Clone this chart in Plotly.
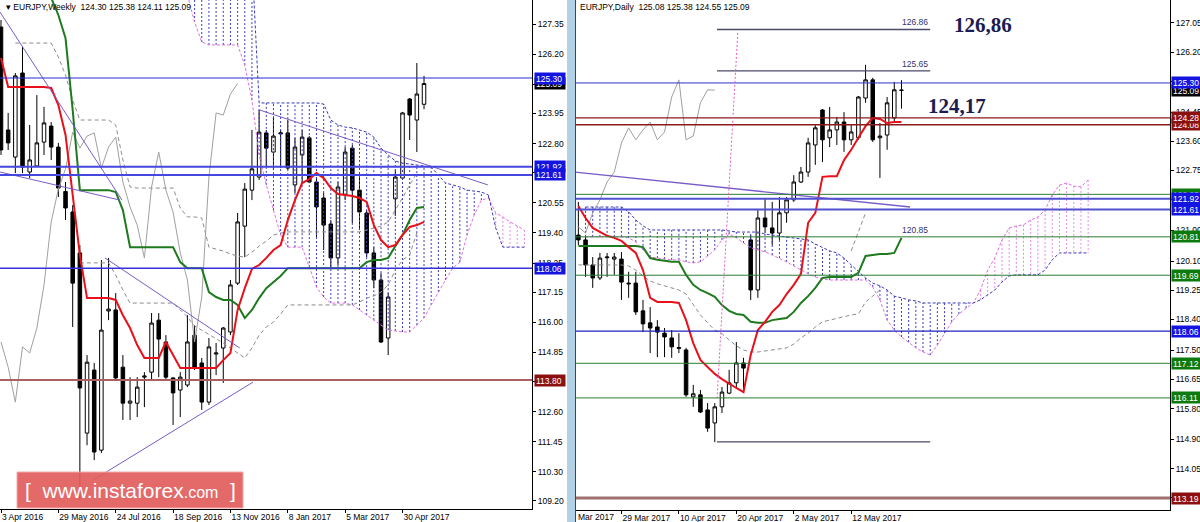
import plotly.graph_objects as go

W, H = 1200, 522
FONT = "Liberation Sans, Arial, sans-serif"

# ---------------- WEEKLY (left panel) ----------------
w_open = [127.24, 123.32, 122.29, 125.49, 121.72, 121.95, 122.86, 123.47, 122.67, 120.98,
          120.20, 118.64, 111.78, 114.18, 111.13, 116.43, 116.47, 114.29, 112.92, 112.92,
          113.91, 114.10, 116.08, 115.25, 113.88, 113.42, 113.61, 115.51, 114.45, 112.96,
          114.79, 115.02, 115.63, 117.49, 119.66, 121.03, 121.53, 123.21, 122.48, 123.17,
          123.21, 121.23, 122.37, 123.02, 121.34, 120.73, 119.74, 118.45, 120.84, 122.63,
          121.03, 120.16, 118.64, 117.61, 115.40, 120.70, 121.49, 124.50, 123.70, 124.30]
w_high = [127.51, 123.97, 125.49, 126.48, 123.51, 124.65, 124.20, 123.62, 122.83, 121.34,
          120.46, 118.94, 114.75, 114.45, 118.37, 118.45, 117.11, 114.75, 113.91, 113.91,
          114.10, 116.35, 116.35, 115.51, 113.91, 114.10, 116.27, 115.89, 114.64, 115.40,
          115.21, 115.82, 117.61, 120.16, 121.30, 123.32, 124.08, 123.32, 123.81, 123.32,
          123.70, 123.02, 123.32, 123.09, 121.53, 120.92, 119.89, 121.34, 122.67, 122.75,
          121.68, 120.27, 118.86, 117.87, 117.11, 121.80, 124.01, 124.54, 125.87, 125.38]
w_low = [122.37, 122.56, 121.68, 121.68, 121.49, 121.91, 122.37, 122.18, 120.77, 119.89,
         115.82, 109.23, 111.32, 110.75, 111.02, 116.08, 113.80, 112.28, 112.28, 112.39,
         112.77, 113.80, 113.91, 113.80, 112.09, 112.39, 113.53, 114.18, 112.66, 112.85,
         113.99, 113.69, 115.51, 117.42, 118.48, 120.65, 121.42, 121.91, 121.80, 121.87,
         121.80, 120.92, 121.30, 121.30, 119.25, 118.75, 118.10, 118.18, 120.65, 119.78,
         119.51, 118.48, 117.30, 115.21, 114.75, 120.05, 121.42, 122.94, 122.48, 124.11]
w_close = [122.56, 122.83, 125.38, 121.91, 122.18, 122.83, 123.59, 122.67, 121.11, 120.35,
           117.49, 113.50, 114.48, 111.06, 115.70, 116.50, 113.88, 112.92, 113.00, 113.53,
           113.95, 115.97, 115.36, 113.91, 113.31, 113.91, 115.25, 114.29, 112.96, 115.06,
           114.83, 115.78, 117.42, 119.82, 121.07, 121.84, 123.24, 122.63, 123.09, 123.21,
           121.87, 122.67, 123.05, 121.34, 120.39, 119.70, 118.45, 121.15, 122.48, 121.03,
           120.20, 118.64, 117.61, 115.25, 116.96, 121.53, 123.97, 123.89, 124.69, 125.09]
w_idx = list(range(len(w_close)))

w_tenkan = [126.06, 124.96, 124.96, 124.96, 124.96, 124.96, 124.96, 124.92, 124.27, 123.13,
            120.84, 118.56, 116.92, 116.92, 116.92, 116.92, 116.85, 116.27, 115.78, 115.13,
            114.64, 114.64, 114.64, 115.25, 114.75, 114.26, 114.26, 114.26, 114.26, 114.26,
            114.26, 114.56, 114.83, 116.47, 117.30, 118.03, 118.18, 118.45, 118.75, 118.94,
            119.89, 120.65, 121.30, 121.45, 121.68, 121.49, 121.11, 120.88, 120.84, 120.81,
            120.73, 120.58, 119.70, 119.13, 118.86, 118.94, 119.32, 119.63, 119.70, 119.82]
w_kijun = [129.90, 129.90, 129.90, 129.90, 129.90, 129.90, 129.22, 128.35, 127.70, 126.82,
           124.08, 121.03, 121.03, 121.03, 121.03, 121.03, 120.96, 120.27, 118.86, 118.86,
           118.86, 118.86, 118.86, 118.86, 118.86, 118.29, 118.06, 118.06, 118.06, 117.15,
           116.96, 116.85, 116.85, 116.66, 116.16, 116.47, 116.92, 117.30, 117.53, 117.76,
           118.06, 118.06, 118.06, 118.06, 118.06, 118.06, 118.06, 118.06, 118.06, 118.06,
           118.06, 118.29, 118.37, 118.37, 118.45, 118.90, 119.32, 119.89, 120.35, 120.39]

# dashed grey lines (weekly)
w_d1_start = 2
w_d1 = [126.63, 126.63, 126.63, 126.63, 126.63, 126.63, 126.10, 125.41, 124.46, 123.70,
        123.70, 123.70, 123.70, 123.70, 123.51, 122.18, 121.15, 121.11, 121.11, 121.11,
        121.11, 121.11, 121.11, 120.35, 120.01, 120.01, 119.97, 118.86, 118.79, 118.71,
        118.60, 118.52, 118.48, 118.67, 118.90, 119.09, 119.32, 119.40, 119.44, 119.44,
        119.44, 119.44, 119.44, 119.44, 119.44, 119.44, 119.44, 119.44, 119.44, 119.51,
        119.59, 119.66, 119.82, 120.27, 120.73, 121.23, 121.68]
w_d2_start = 11
w_d2 = [118.26, 118.26, 118.26, 118.26, 118.26, 117.80, 117.23, 116.73, 116.73, 116.73,
        116.73, 116.73, 116.73, 116.73, 116.47, 116.20, 115.86, 115.70, 115.55, 115.40,
        115.21, 115.02, 114.83, 114.64, 115.02, 115.51, 115.82, 116.01, 116.31, 116.66,
        116.66, 116.66, 116.66, 116.66, 116.66, 116.66, 116.66, 116.66, 116.66, 116.77,
        116.92, 117.00, 117.15, 117.42, 117.99, 118.37, 118.56, 119.40]

# Ichimoku cloud (weekly), bars 26..73
w_cloud_start = 26
w_spanA = [128.46, 127.43, 126.67, 126.56, 126.56, 126.56, 126.56, 126.56, 125.79, 124.46,
           122.37, 121.23, 120.27, 119.32, 118.86, 118.86, 118.86, 118.10, 117.34, 116.96,
           116.73, 116.73, 116.73, 116.66, 116.47, 116.27, 116.08, 115.89, 115.70, 115.67,
           115.63, 115.63, 115.89, 116.16, 116.66, 117.15, 117.61, 118.06, 118.29, 119.32,
           120.08, 120.65, 120.73, 120.16, 120.01, 119.82, 119.66, 119.51]
w_spanB = [129.79, 129.79, 129.79, 129.79, 129.79, 129.79, 129.79, 129.79, 129.79, 129.79,
           124.35, 124.35, 124.35, 124.35, 124.35, 124.35, 124.35, 124.35, 124.35, 124.31,
           123.70, 123.51, 123.43, 123.40, 123.32, 123.24, 123.05, 122.63, 122.37, 122.14,
           122.06, 122.03, 121.99, 121.95, 121.91, 121.61, 121.30, 121.23, 121.15, 121.03,
           121.00, 120.96, 120.84, 119.59, 118.86, 118.86, 118.86, 118.86]

# trend lines (weekly): (bar0, price0, bar1, price1)
w_trend = [(-0.14, 127.81, 16.88, 120.65),
           (-0.14, 121.72, 16.60, 120.65),
           (14.5, 118.45, 33.3, 115.02),
           (12.83, 109.99, 35.15, 113.72),
           (36.1, 124.08, 67.9, 121.23)]

w_levels = [125.30, 121.92, 121.61, 118.06, 113.80]
w_level_colors = ["#2b2bd6", "#4646e0", "#4646e0", "#3434d8", "#a86060"]
w_level_widths = [1, 2, 2, 1.5, 2]
w_box_colors = ["#1414e0", "#1414e0", "#1414e0", "#1414e0", "#8b1010"]

w_yticks = [127.35, 126.20, 125.05, 123.95, 122.80, 121.70, 120.55, 119.40, 118.25,
            117.15, 116.00, 114.85, 113.75, 112.60, 111.45, 110.30, 109.20]
w_xtick_idx = [0, 8, 16, 24, 32, 40, 48, 56]
w_xtick_txt = ["3 Apr 2016", "29 May 2016", "24 Jul 2016", "18 Sep 2016",
               "13 Nov 2016", "8 Jan 2017", "5 Mar 2017", "30 Apr 2017"]

# ---------------- DAILY (right panel) ----------------
d_start = 2
d_open = [120.86, 120.72, 119.99, 119.61, 120.20, 120.16, 120.16, 119.46, 119.46, 118.65,
          118.30, 118.18, 118.00, 117.86, 117.58, 117.51, 116.14, 116.20, 115.76, 115.38,
          115.85, 116.25, 116.55, 117.13, 120.72, 119.26, 121.36, 121.07, 120.92, 121.51,
          121.89, 122.41, 122.70, 123.49, 124.51, 123.70, 123.93, 124.16, 123.64, 123.70,
          124.86, 125.39, 123.70, 123.78, 124.28, 125.08]
d_high = [121.83, 120.81, 120.22, 120.34, 120.34, 120.34, 120.37, 119.79, 119.79, 118.97,
          118.76, 118.38, 118.15, 118.09, 118.00, 117.57, 116.49, 116.34, 115.96, 115.96,
          116.43, 116.93, 117.74, 117.28, 120.86, 121.59, 121.94, 121.83, 121.97, 121.97,
          122.61, 122.85, 123.70, 124.07, 124.54, 124.60, 124.31, 124.45, 124.07, 124.92,
          125.83, 125.45, 124.13, 124.89, 125.33, 125.38]
d_low = [120.57, 119.64, 119.32, 119.55, 119.64, 119.70, 118.97, 119.03, 118.53, 118.03,
         117.42, 117.30, 117.30, 117.28, 117.42, 116.14, 115.85, 115.67, 115.12, 114.82,
         115.67, 116.22, 116.43, 116.34, 118.97, 119.03, 120.92, 120.57, 120.72, 121.22,
         121.83, 122.38, 122.56, 122.91, 122.99, 123.43, 123.49, 123.29, 123.49, 123.64,
         124.72, 123.58, 122.53, 123.35, 124.13, 124.55]
d_close = [120.72, 119.99, 119.61, 120.19, 120.22, 120.22, 119.49, 119.44, 118.62, 118.27,
           118.15, 118.03, 117.89, 117.60, 117.56, 116.20, 116.23, 115.70, 115.23, 115.85,
           116.28, 116.55, 117.13, 116.98, 119.26, 121.36, 121.10, 120.92, 121.51, 121.89,
           122.41, 122.70, 123.55, 123.99, 123.64, 123.93, 124.16, 123.64, 123.87, 124.89,
           125.39, 123.64, 123.75, 124.72, 125.10, 125.09]
d_idx = list(range(d_start, d_start + len(d_close)))

d_tenkan = [121.71, 121.36, 121.07, 120.95, 120.84, 120.78, 120.69, 120.51, 120.34, 119.84,
            119.03, 118.91, 118.91, 118.91, 118.88, 118.38, 117.71, 117.22, 117.01, 116.81,
            116.66, 116.52, 116.40, 116.28, 117.36, 118.09, 118.33, 118.62, 118.82, 119.14,
            119.41, 119.73, 121.22, 121.51, 122.56, 122.58, 122.58, 123.05, 123.35, 123.70,
            124.04, 124.28, 124.25, 124.13, 124.16, 124.16]
d_kijun = [120.54, 120.54, 120.54, 120.54, 120.54, 120.54, 120.54, 120.54, 120.54, 120.51,
           120.19, 120.14, 120.11, 120.08, 120.08, 119.70, 119.41, 119.26, 119.17, 119.06,
           118.82, 118.65, 118.56, 118.53, 118.33, 118.30, 118.30, 118.38, 118.41, 118.44,
           118.62, 118.88, 119.08, 119.32, 119.61, 119.64, 119.64, 119.64, 119.64, 119.76,
           120.25, 120.28, 120.31, 120.31, 120.34, 120.78]

d_cloud_start = 3
d_spanA = [120.81, 120.81, 120.81, 120.81, 120.81, 120.81, 120.78, 120.66, 120.43, 120.22,
           120.19, 120.16, 120.14, 120.14, 120.08, 120.05, 120.08, 120.25, 120.43, 120.72,
           120.89, 120.78, 120.63, 120.49, 120.43, 120.37, 120.28, 120.19, 120.08, 119.96,
           119.84, 119.73, 119.64, 119.58, 119.55, 119.55, 119.55, 119.55, 119.55, 119.55,
           119.35, 118.97, 118.38, 118.09, 117.89, 117.74, 117.57, 117.45, 117.36, 117.65,
           118.00, 118.33, 118.56, 118.73, 118.88, 119.26, 119.84, 120.19, 120.72, 121.07,
           121.13, 121.16, 121.30, 121.39, 121.59, 122.03, 122.32, 122.38, 122.29, 122.27, 122.47]
d_spanB = [121.68, 121.68, 121.68, 121.68, 121.68, 121.68, 121.54, 121.30, 121.13, 121.01,
           121.01, 121.01, 121.01, 121.01, 121.01, 121.01, 121.01, 121.01, 121.01, 121.01,
           120.98, 120.95, 120.95, 120.95, 120.95, 120.89, 120.86, 120.84, 120.81, 120.78,
           120.75, 120.72, 120.60, 120.49, 120.40, 120.34, 120.19, 119.99, 119.79, 119.61,
           119.46, 119.38, 119.26, 119.08, 119.03, 118.97, 118.94, 118.88, 118.88, 118.88,
           118.88, 118.88, 118.88, 118.88, 118.88, 118.97, 119.11, 119.26, 119.49, 119.67,
           119.70, 119.70, 119.70, 119.70, 119.84, 120.14, 120.34, 120.34, 120.34, 120.34, 120.34]

d_r1_start = 2
d_r1 = [119.99, 119.99, 119.99, 119.99, 119.99, 119.99, 119.99, 119.96, 119.84, 119.67,
        119.52, 119.44, 119.38, 119.32, 119.26, 119.14, 118.82, 118.53, 118.30, 118.09,
        117.98, 117.80, 117.63, 117.51, 117.45, 117.45, 117.48, 117.51, 117.54, 117.57,
        117.68, 117.86, 118.00, 118.18, 118.33, 118.38, 118.44, 118.50, 118.53, 118.56,
        118.91, 119.08, 119.26]
d_r3_start = 40
d_r3 = [120.40, 120.95, 121.51]

d_trend = [(1.53, 122.70, 48.2, 121.68)]
d_fib = [126.86, 125.65, 114.83]
d_fib_from, d_fib_to = 21.3, 51.0
d_fib_labels = [(126.86, "126.86"), (125.65, "125.65"), (120.81, "120.85")]
d_vline = (24.2, 126.76, 21.3, 116.05)

d_levels = [125.30, 124.28, 124.08, 122.05, 121.92, 121.61, 120.81, 119.69, 118.06, 117.12, 116.11, 113.19]
d_level_colors = ["#3030c8", "#8b1a1a", "#8b1a1a", "#2e7d32", "#5050d0", "#5050d0",
                  "#2e7d32", "#2e7d32", "#2020c0", "#2e7d32", "#2e7d32", "#a07070"]
d_level_widths = [1, 1.3, 1.3, 1, 2, 2, 1, 1, 1.3, 1, 1, 3]
d_box_colors = ["#1414e0", "#8b1010", "#8b1010", "#0d7a0d", "#1414e0", "#1414e0",
                "#0d7a0d", "#0d7a0d", "#1414e0", "#0d7a0d", "#0d7a0d", "#8b1010"]
d_box_order = [2, 1, 3, 4, 5, 6, 7, 8, 9, 10, 11]

d_yticks = [127.05, 126.20, 125.35, 124.45, 123.60, 122.75, 121.90, 121.00, 120.10,
            119.25, 118.40, 117.50, 116.65, 115.80, 114.90, 114.05, 113.20]
d_xtick_idx = [0, 8, 16, 24, 32, 40]
d_xtick_txt = ["17 Mar 2017", "29 Mar 2017", "10 Apr 2017", "20 Apr 2017", "2 May 2017", "12 May 2017"]

big_labels = [("126,86", 983, 25), ("124,17", 957, 106)]

# ---------------- FIGURE ----------------
fig = go.Figure()


def cloud_columns(xs, a, b):
    bx, by, px, py = [], [], [], []
    for x, ya, yb in zip(xs, a, b):
        if yb >= ya:
            bx += [x, x, None]; by += [ya, yb, None]
        else:
            px += [x, x, None]; py += [ya, yb, None]
    return bx, by, px, py


def add_panel(xa, ya, cxs, sa, sb, dashed, chik_x, chik_y, idx, o, h, l, c, ten, kij):
    bx, by, px, py = cloud_columns(cxs, sa, sb)
    fig.add_trace(go.Scatter(x=bx, y=by, mode="lines", xaxis=xa, yaxis=ya,
                             line=dict(color="#3a3ab8", width=1, dash="2px,2px"), hoverinfo="skip"))
    fig.add_trace(go.Scatter(x=px, y=py, mode="lines", xaxis=xa, yaxis=ya,
                             line=dict(color="#e58ae5", width=1, dash="2px,2px"), hoverinfo="skip"))
    fig.add_trace(go.Scatter(x=cxs, y=sa, mode="lines", xaxis=xa, yaxis=ya,
                             line=dict(color="#e070e0", width=1, dash="3px,2px"), hoverinfo="skip"))
    fig.add_trace(go.Scatter(x=cxs, y=sb, mode="lines", xaxis=xa, yaxis=ya,
                             line=dict(color="#3a3ab8", width=1, dash="3px,2px"), hoverinfo="skip"))
    for start, vals in dashed:
        fig.add_trace(go.Scatter(x=list(range(start, start + len(vals))), y=vals, mode="lines",
                                 xaxis=xa, yaxis=ya,
                                 line=dict(color="#8c8c8c", width=1, dash="4px,3px"), hoverinfo="skip"))
    fig.add_trace(go.Scatter(x=chik_x, y=chik_y, mode="lines", xaxis=xa, yaxis=ya,
                             line=dict(color="#a0a0a0", width=1), hoverinfo="skip"))
    fig.add_trace(go.Candlestick(x=idx, open=o, high=h, low=l, close=c, xaxis=xa, yaxis=ya,
                                 increasing=dict(line=dict(color="black", width=1), fillcolor="white"),
                                 decreasing=dict(line=dict(color="black", width=1), fillcolor="black"),
                                 whiskerwidth=0, hoverinfo="skip"))
    fig.add_trace(go.Scatter(x=idx, y=kij, mode="lines", xaxis=xa, yaxis=ya,
                             line=dict(color="#1e7a1e", width=2), hoverinfo="skip"))
    fig.add_trace(go.Scatter(x=idx, y=ten, mode="lines", xaxis=xa, yaxis=ya,
                             line=dict(color="#e8101a", width=2), hoverinfo="skip"))


w_cloud_x = list(range(w_cloud_start, w_cloud_start + len(w_spanA)))
add_panel("x", "y", w_cloud_x, w_spanA, w_spanB,
          [(w_d1_start, w_d1), (w_d2_start, w_d2)],
          [i - 26 for i in w_idx if i >= 26], [w_close[i] for i in w_idx if i >= 26],
          w_idx, w_open, w_high, w_low, w_close, w_tenkan, w_kijun)

d_cloud_x = list(range(d_cloud_start, d_cloud_start + len(d_spanA)))
add_panel("x2", "y2", d_cloud_x, d_spanA, d_spanB,
          [(d_r1_start, d_r1), (d_r3_start, d_r3)],
          [d - 26 for d in d_idx if d >= 28], [c for d, c in zip(d_idx, d_close) if d >= 28],
          d_idx, d_open, d_high, d_low, d_close, d_tenkan, d_kijun)

shapes = []
for x0, y0, x1, y1 in w_trend:
    shapes.append(dict(type="line", xref="x", yref="y", x0=x0, y0=y0, x1=x1, y1=y1,
                       line=dict(color="#7a5ac8", width=1)))
for x0, y0, x1, y1 in d_trend:
    shapes.append(dict(type="line", xref="x2", yref="y2", x0=x0, y0=y0, x1=x1, y1=y1,
                       line=dict(color="#7a5ac8", width=1.3)))
for v, col, wd in zip(w_levels, w_level_colors, w_level_widths):
    shapes.append(dict(type="line", xref="x domain", yref="y", x0=0, x1=1, y0=v, y1=v,
                       line=dict(color=col, width=wd)))
for v, col, wd in zip(d_levels, d_level_colors, d_level_widths):
    shapes.append(dict(type="line", xref="x2 domain", yref="y2", x0=0, x1=1, y0=v, y1=v,
                       line=dict(color=col, width=wd)))
for v in d_fib:
    shapes.append(dict(type="line", xref="x2", yref="y2", x0=d_fib_from, x1=d_fib_to, y0=v, y1=v,
                       line=dict(color="#4a4a6a", width=1.3)))
shapes.append(dict(type="line", xref="x2", yref="y2", x0=d_vline[0], y0=d_vline[1],
                   x1=d_vline[2], y1=d_vline[3], line=dict(color="#e060c0", width=1, dash="2px,2px")))
shapes.append(dict(type="rect", xref="paper", yref="paper", x0=567 / W, x1=575 / W, y0=0, y1=1,
                   fillcolor="#b4d2e6", line=dict(width=0), layer="above"))
shapes.append(dict(type="line", xref="paper", yref="paper", x0=575.5 / W, x1=575.5 / W, y0=0, y1=1,
                   line=dict(color="#2a4a6a", width=1), layer="above"))
shapes.append(dict(type="rect", xref="paper", yref="paper", x0=17 / W, x1=243 / W,
                   y0=1 - 508 / H, y1=1 - 472 / H, fillcolor="rgba(226,92,92,0.92)",
                   line=dict(color="rgba(245,170,170,1)", width=1), layer="above"))

ann = []
tf = dict(family=FONT, size=8.5, color="white")


def box(xpx, yref, val, bg):
    ann.append(dict(x=xpx / W, xref="paper", y=val, yref=yref, text=f"{val:.2f}", showarrow=False,
                    xanchor="left", yanchor="middle", bgcolor=bg, font=tf, borderpad=1,
                    width=28, height=9, align="left"))


box(534, "y", w_close[-1], "#000000")
for v, bg in zip(w_levels, w_box_colors):
    box(534, "y", v, bg)
box(1171, "y2", d_close[-1], "#000000")
box(1171, "y2", d_levels[0], d_box_colors[0])
for i in d_box_order:
    box(1171, "y2", d_levels[i], d_box_colors[i])

ann.append(dict(x=4 / W, xref="paper", y=1 - 7 / H, yref="paper", showarrow=False, xanchor="left",
                yanchor="middle", font=dict(family=FONT, size=8.5, color="black"),
                text=f"\u25be EURJPY,Weekly  {w_open[-1]:.2f} {w_high[-1]:.2f} {w_low[-1]:.2f} {w_close[-1]:.2f}"))
ann.append(dict(x=578 / W, xref="paper", y=1 - 7 / H, yref="paper", showarrow=False, xanchor="left",
                yanchor="middle", font=dict(family=FONT, size=8.5, color="black"),
                text=f"EURJPY,Daily  {d_open[-1]:.2f} {d_high[-1]:.2f} {d_low[-1]:.2f} {d_close[-1]:.2f}"))
for v, t in d_fib_labels:
    ann.append(dict(x=d_fib_to, xref="x2", y=v, yref="y2", text=t, showarrow=False,
                    xanchor="right", yanchor="bottom", yshift=0,
                    font=dict(family=FONT, size=8.5, color="#33336e")))
for t, xp, yp in big_labels:
    ann.append(dict(x=xp / W, xref="paper", y=1 - yp / H, yref="paper", text=f"<b>{t}</b>",
                    showarrow=False, xanchor="center", yanchor="middle",
                    font=dict(family="Liberation Serif, Times New Roman, serif", size=21, color="#1c1c50")))
ann.append(dict(x=576 / W, xref="paper", y=1 - 510 / H, yref="paper", text="Mar 2017",
                showarrow=False, xanchor="left", yanchor="top",
                font=dict(family=FONT, size=8.5, color="black")))
ann.append(dict(x=130 / W, xref="paper", y=1 - 490 / H, yref="paper", showarrow=False,
                xanchor="center", yanchor="middle",
                text="[  www.instaforex<span style='font-size:16px'>.com</span>  ]",
                font=dict(family=FONT, size=21, color="white")))

axis_common = dict(showgrid=False, zeroline=False, showline=True, linecolor="black", linewidth=1,
                   ticks="outside", ticklen=3, tickcolor="black", automargin=False,
                   ticklabeloverflow="allow", tickangle=0,
                   tickfont=dict(family=FONT, size=8.5, color="black"), fixedrange=True)

fig.update_layout(
    width=W, height=H, margin=dict(l=0, r=0, t=0, b=0),
    paper_bgcolor="white", plot_bgcolor="white", showlegend=False,
    shapes=shapes, annotations=ann,
    xaxis=dict(domain=[0, 532 / W], range=[-0.14, 74.06], anchor="y",
               tickvals=w_xtick_idx, ticktext=w_xtick_txt, ticklabelposition="outside right",
               rangeslider=dict(visible=False), **axis_common),
    yaxis=dict(domain=[13 / H, 1], range=[108.89, 128.27], side="right", anchor="x",
               tickvals=w_yticks, ticktext=[f"{v:.2f}" for v in w_yticks], **axis_common),
    xaxis2=dict(domain=[575 / W, 1170 / W], range=[1.53, 84.4], anchor="y2",
                tickvals=d_xtick_idx, ticktext=d_xtick_txt, ticklabelposition="outside right",
                rangeslider=dict(visible=False), **axis_common),
    yaxis2=dict(domain=[12 / H, 1], range=[112.84, 127.72], side="right", anchor="x2",
                tickvals=d_yticks, ticktext=[f"{v:.2f}" for v in d_yticks], **axis_common),
)

fig.write_html("out.html", config={"displayModeBar": False},
               post_script="document.body.style.margin='0';document.body.style.padding='0';"
                           "document.documentElement.style.overflow='hidden';")
